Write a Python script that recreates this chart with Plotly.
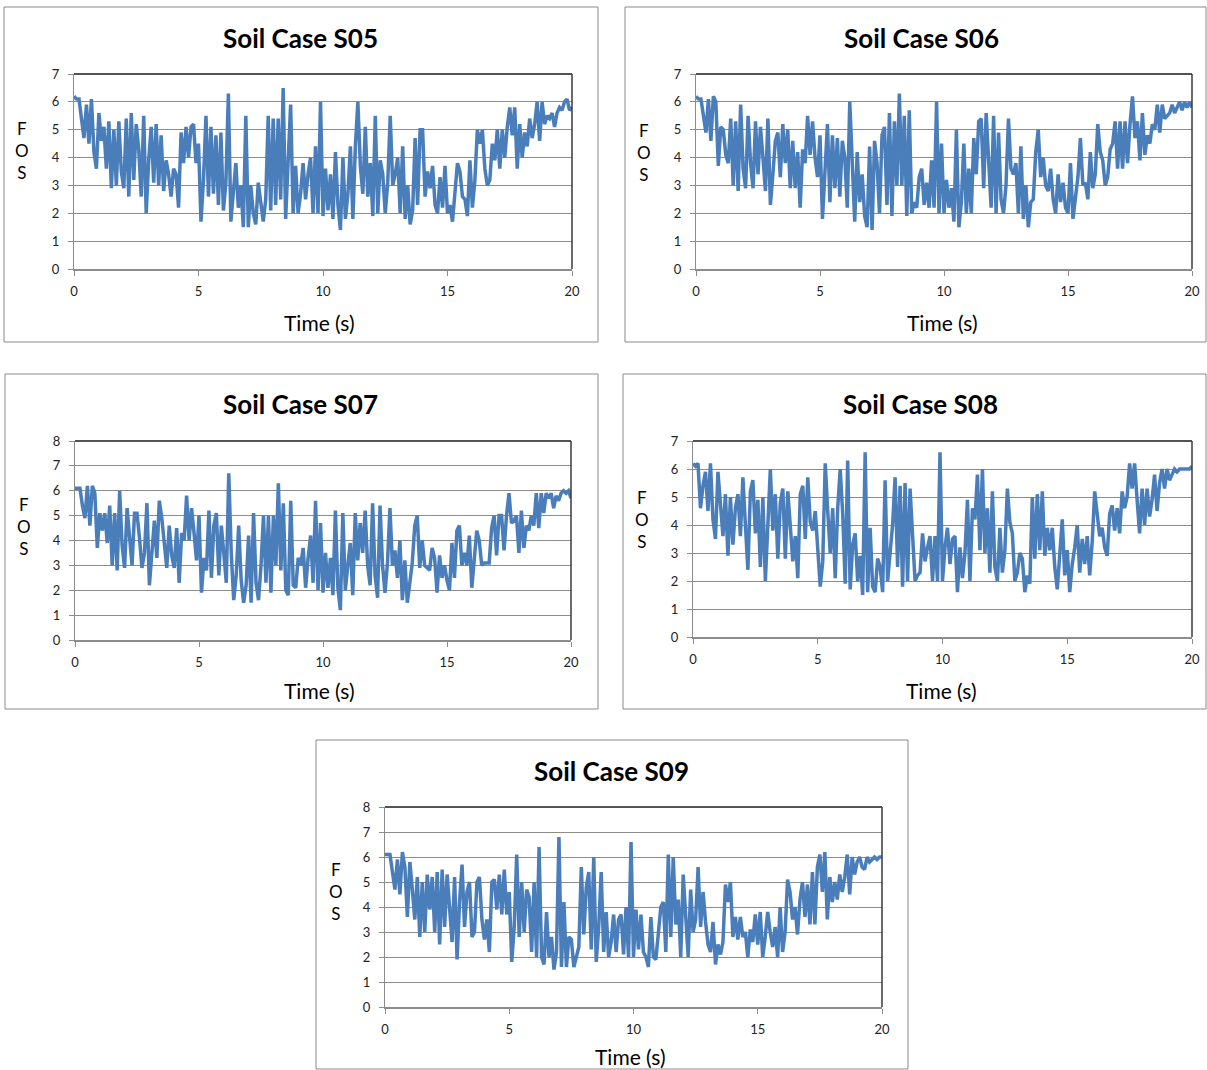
import plotly.graph_objects as go

W, H = 1207, 1070

time_s = [round(i * 0.1, 1) for i in range(201)]

s05 = [6.2, 6.1, 6.1, 5.4, 4.7, 5.9, 4.5, 6.1, 4.2, 3.6,
       5.6, 4.6, 5.1, 3.6, 5.3, 2.9, 5.0, 3.0, 5.3, 3.5,
       2.9, 5.4, 2.6, 5.6, 3.2, 5.2, 4.3, 2.6, 5.5, 2.0,
       3.9, 5.1, 3.1, 5.2, 3.0, 4.8, 2.8, 3.9, 3.4, 2.6,
       3.6, 3.4, 2.2, 4.9, 3.8, 5.1, 4.0, 5.1, 5.2, 3.8,
       4.5, 1.7, 3.2, 5.5, 2.6, 5.1, 2.7, 4.8, 2.3, 4.9,
       2.1, 3.1, 6.3, 1.7, 2.9, 3.8, 2.2, 3.0, 1.5, 5.5,
       1.5, 3.0, 2.0, 1.6, 3.1, 2.5, 1.7, 2.5, 5.5, 2.1,
       5.4, 2.3, 5.4, 2.5, 6.5, 1.8, 3.8, 5.9, 2.0, 3.7,
       2.0, 2.7, 3.8, 2.5, 3.4, 4.0, 2.0, 4.4, 2.0, 6.0,
       1.9, 3.6, 2.1, 3.4, 1.8, 4.2, 2.3, 1.4, 4.0, 1.8,
       2.7, 4.4, 1.8, 4.4, 6.0, 3.7, 2.7, 5.1, 2.6, 3.8,
       1.9, 5.5, 2.0, 3.9, 3.4, 2.0, 3.1, 5.5, 3.0, 3.4,
       4.0, 2.0, 4.4, 1.8, 3.0, 1.6, 2.1, 4.7, 2.3, 5.0,
       5.0, 2.6, 3.5, 2.9, 3.7, 2.3, 2.0, 3.3, 2.2, 3.7,
       2.0, 2.3, 1.7, 2.7, 3.8, 3.5, 2.6, 2.5, 1.9, 3.9,
       2.2, 3.2, 5.0, 4.5, 5.0, 3.6, 3.0, 3.2, 4.5, 3.9,
       5.0, 3.6, 5.0, 4.0, 5.1, 5.8, 4.8, 5.8, 3.6, 5.2,
       4.0, 4.9, 4.4, 5.4, 4.7, 5.2, 6.0, 4.6, 6.0, 5.2,
       5.5, 5.4, 5.6, 5.1, 5.6, 5.8, 5.7, 6.0, 6.1, 5.7,
       5.8]

s06 = [6.2, 6.1, 6.1, 5.4, 4.9, 6.1, 4.6, 6.2, 6.0, 3.7,
       5.1, 5.0, 4.1, 3.8, 5.4, 3.0, 5.3, 2.8, 5.9, 3.6,
       2.9, 5.5, 3.8, 2.9, 5.3, 3.4, 5.1, 4.0, 2.8, 5.4,
       2.3, 3.4, 4.6, 4.9, 3.3, 5.2, 3.8, 5.0, 2.9, 4.6,
       2.9, 4.2, 2.2, 4.3, 3.8, 5.5, 4.1, 5.3, 4.0, 3.3,
       4.8, 1.8, 3.3, 5.2, 2.4, 4.8, 2.9, 4.7, 2.6, 4.6,
       4.0, 2.2, 6.0, 3.5, 1.7, 4.2, 2.4, 3.4, 1.9, 1.5,
       4.4, 1.4, 4.6, 3.8, 2.0, 4.8, 5.1, 2.3, 5.6, 1.9,
       5.3, 3.0, 6.3, 3.0, 5.5, 1.9, 5.7, 2.0, 2.4, 2.2,
       3.3, 3.6, 2.3, 3.1, 2.2, 3.9, 2.2, 6.0, 2.0, 4.5,
       2.0, 3.2, 2.2, 2.9, 1.7, 5.0, 1.5, 2.4, 4.5, 2.0,
       3.6, 2.0, 4.7, 3.4, 5.3, 5.4, 2.9, 5.6, 3.6, 2.2,
       5.5, 2.0, 4.9, 2.5, 2.0, 3.0, 5.4, 3.6, 3.4, 3.8,
       2.0, 4.4, 1.8, 3.0, 1.5, 2.4, 2.5, 4.2, 5.0, 3.3,
       4.0, 3.0, 2.8, 3.6, 2.5, 2.0, 3.4, 2.4, 3.1, 2.2,
       2.0, 3.8, 1.8, 2.5, 3.3, 4.7, 3.0, 3.1, 2.5, 4.2,
       2.9, 3.4, 5.2, 4.2, 3.9, 3.0, 3.3, 4.3, 4.5, 5.3,
       3.6, 5.3, 3.6, 5.3, 3.8, 5.2, 6.2, 4.7, 5.3, 3.9,
       5.6, 4.1, 4.8, 4.5, 5.2, 5.0, 5.9, 4.9, 5.9, 5.4,
       5.5, 5.6, 5.9, 5.6, 5.8, 6.0, 5.7, 6.0, 5.8, 6.0,
       5.8]

s07 = [6.1, 6.1, 6.1, 5.4, 4.9, 6.2, 4.6, 6.2, 5.9, 3.7,
       5.1, 4.4, 5.1, 3.9, 5.4, 3.0, 5.1, 2.8, 6.0, 3.8,
       2.9, 5.3, 4.0, 3.0, 5.1, 5.1, 4.1, 2.9, 3.5, 5.5,
       2.2, 3.6, 4.8, 3.3, 5.6, 4.9, 4.0, 2.9, 4.6, 3.4,
       2.9, 4.5, 2.3, 4.3, 4.0, 5.8, 4.0, 5.3, 4.3, 3.2,
       5.0, 1.9, 3.3, 2.8, 5.2, 2.5, 4.6, 5.1, 2.6, 4.6,
       3.5, 2.3, 6.7, 3.5, 1.6, 2.6, 4.6, 2.4, 1.5, 2.2,
       4.2, 1.5, 5.1, 2.3, 1.6, 3.0, 5.0, 2.3, 5.0, 1.9,
       5.0, 3.0, 6.3, 2.8, 5.5, 2.0, 1.8, 5.6, 2.2, 2.1,
       3.3, 3.0, 3.7, 2.1, 3.3, 4.2, 2.3, 5.6, 2.0, 4.7,
       1.9, 3.5, 2.1, 3.3, 1.8, 5.2, 2.1, 1.2, 5.1, 2.0,
       3.0, 3.9, 1.8, 5.1, 3.2, 4.7, 3.5, 5.2, 3.0, 2.2,
       5.5, 2.6, 1.7, 5.4, 3.0, 1.9, 3.1, 5.3, 3.0, 3.6,
       2.5, 4.0, 1.6, 3.2, 1.5, 2.2, 3.1, 4.6, 5.0, 2.9,
       4.0, 3.0, 2.9, 2.8, 3.7, 3.3, 1.9, 3.4, 2.5, 3.0,
       2.4, 2.0, 3.9, 2.5, 4.4, 4.6, 3.0, 3.5, 3.0, 4.2,
       2.1, 3.2, 4.4, 4.0, 3.0, 3.1, 3.1, 3.1, 4.5, 5.0,
       3.4, 5.0, 5.0, 3.6, 5.0, 5.9, 4.7, 4.8, 5.0, 3.5,
       5.2, 3.7, 4.6, 4.4, 5.0, 4.6, 5.9, 4.5, 5.9, 5.1,
       5.9, 5.7, 5.9, 5.3, 5.8, 5.6, 5.9, 6.0, 5.9, 6.0,
       5.7]

s08 = [6.2, 6.1, 6.2, 4.6, 5.4, 5.9, 4.5, 6.2, 4.2, 3.5,
       5.9, 4.7, 3.6, 5.1, 2.9, 5.0, 3.3, 4.6, 5.1, 3.6,
       5.7, 4.0, 2.4, 5.2, 5.6, 3.7, 4.9, 2.5, 5.0, 2.0,
       4.3, 6.0, 3.8, 5.1, 2.8, 4.8, 5.3, 2.8, 5.2, 3.7,
       2.7, 3.6, 2.1, 5.1, 5.4, 3.5, 5.7, 4.1, 3.8, 4.5,
       3.1, 1.8, 2.7, 6.2, 4.5, 3.0, 4.6, 2.1, 4.6, 6.0,
       4.4, 1.9, 6.3, 1.7, 3.3, 3.7, 2.0, 2.9, 1.5, 6.6,
       1.6, 3.9, 1.8, 1.6, 2.8, 2.5, 1.6, 5.6, 2.0, 3.0,
       4.0, 5.7, 2.5, 5.4, 1.8, 5.5, 2.0, 5.3, 3.5, 2.0,
       2.2, 2.3, 3.7, 2.7, 3.2, 3.6, 2.0, 3.6, 2.0, 6.6,
       2.0, 3.2, 3.9, 2.6, 3.5, 3.6, 1.6, 3.2, 2.1, 3.0,
       4.9, 2.0, 4.6, 4.2, 5.8, 3.1, 6.0, 3.0, 4.6, 2.3,
       5.2, 2.5, 2.0, 3.9, 2.3, 3.1, 5.3, 4.1, 3.7, 2.0,
       2.3, 3.0, 2.8, 1.6, 2.2, 1.9, 5.0, 2.8, 5.1, 3.1,
       5.2, 2.9, 3.9, 3.1, 3.9, 2.5, 1.7, 3.2, 4.2, 2.2,
       3.1, 1.6, 2.6, 3.2, 4.0, 2.3, 3.5, 2.6, 3.6, 2.2,
       3.4, 5.2, 4.4, 3.6, 3.9, 3.2, 2.9, 4.4, 4.7, 3.8,
       4.6, 3.7, 5.2, 4.6, 5.0, 6.2, 5.3, 6.2, 4.9, 3.7,
       5.3, 4.0, 5.3, 4.3, 4.9, 5.8, 4.5, 5.5, 6.0, 5.3,
       6.0, 5.6, 5.8, 6.0, 5.9, 6.0, 6.0, 6.0, 6.0, 6.0,
       6.1]

s09 = [6.1, 6.1, 6.1, 5.4, 4.7, 5.9, 4.5, 6.2, 5.6, 3.6,
       5.8, 4.7, 3.5, 5.2, 2.8, 5.0, 3.0, 5.3, 3.9, 5.2,
       3.0, 5.4, 2.5, 5.5, 3.2, 5.3, 4.0, 2.6, 5.2, 1.9,
       4.2, 5.7, 3.2, 4.6, 5.0, 2.8, 3.0, 5.0, 5.2, 3.5,
       2.7, 3.5, 2.2, 5.0, 5.1, 3.9, 5.3, 3.7, 5.5, 3.7,
       4.6, 1.8, 3.2, 6.1, 2.8, 5.0, 3.0, 4.7, 4.4, 2.2,
       5.0, 2.0, 6.4, 2.0, 1.7, 3.8, 2.0, 2.8, 1.5, 2.2,
       6.8, 1.6, 4.2, 1.6, 2.8, 2.7, 1.6, 2.0, 2.4, 5.6,
       2.9, 4.8, 5.4, 2.3, 6.0, 1.8, 3.2, 5.4, 2.2, 3.8,
       2.0, 2.6, 3.7, 2.2, 3.5, 3.7, 2.1, 4.0, 2.0, 6.6,
       2.0, 3.9, 2.3, 3.7, 2.2, 2.0, 1.6, 3.6, 2.0, 1.9,
       3.0, 4.0, 4.2, 2.2, 6.1, 2.8, 6.0, 3.3, 4.3, 2.0,
       5.3, 3.5, 2.0, 4.7, 3.0, 3.5, 5.6, 3.2, 4.6, 3.4,
       2.5, 2.2, 3.4, 1.7, 2.5, 2.1, 2.6, 4.9, 4.2, 5.0,
       2.8, 3.6, 2.7, 3.6, 2.8, 3.0, 2.0, 3.1, 2.6, 3.7,
       2.5, 3.8, 2.0, 2.8, 3.8, 3.0, 2.4, 3.2, 2.0, 4.0,
       2.2, 3.0, 5.1, 4.6, 3.5, 4.0, 2.9, 4.3, 5.0, 3.6,
       4.9, 3.3, 5.4, 3.3, 5.6, 6.1, 4.6, 6.2, 3.5, 5.2,
       4.2, 5.0, 4.3, 5.3, 4.6, 5.2, 6.1, 4.5, 6.0, 5.3,
       5.8, 6.0, 5.6, 5.5, 6.0, 5.8, 5.9, 6.0, 5.9, 6.0,
       6.0]

titles = ["Soil Case S05", "Soil Case S06", "Soil Case S07", "Soil Case S08", "Soil Case S09"]
series = [s05, s06, s07, s08, s09]
y_max = [7, 7, 8, 7, 8]
x_ticks = [0, 5, 10, 15, 20]
x_label = "Time (s)"
y_label = "F<br>O<br>S"

# layout geometry (pixels): panel box, plot area, title pos, x-label pos, y-label pos
panels = [
    dict(box=(4, 7, 598, 342), plot=(74, 74, 572, 269), title=(300, 38), xl=(319, 322), yl=(22, 150)),
    dict(box=(625, 7, 1206, 342), plot=(696, 74, 1192, 269), title=(921, 38), xl=(942, 322), yl=(644, 152)),
    dict(box=(5, 374, 598, 709), plot=(75, 441, 571, 640), title=(300, 404), xl=(319, 690), yl=(24, 526)),
    dict(box=(623, 374, 1206, 709), plot=(693, 441, 1192, 637), title=(920, 404), xl=(941, 690), yl=(642, 519)),
    dict(box=(316, 740, 908, 1069), plot=(385, 807, 882, 1007), title=(611, 771), xl=(630, 1056), yl=(336, 891)),
]

def px(x):
    return x / W

def py(y):
    return 1 - y / H

FONT = "Lato, 'Open Sans', sans-serif"
LINE_COLOR = "#4a7ebb"
GRID = "#8c8c8c"

fig = go.Figure()
shapes = []
annotations = []
layout_axes = {}

for i, (p, ttl, ys, ym) in enumerate(zip(panels, titles, series, y_max)):
    n = i + 1
    xa = "x" if n == 1 else f"x{n}"
    ya = "y" if n == 1 else f"y{n}"
    xkey = "xaxis" if n == 1 else f"xaxis{n}"
    ykey = "yaxis" if n == 1 else f"yaxis{n}"
    x0, y0, x1, y1 = p["plot"]
    fig.add_trace(go.Scatter(x=time_s, y=ys, mode="lines", xaxis=xa, yaxis=ya,
                             line=dict(color=LINE_COLOR, width=3.5), showlegend=False,
                             hoverinfo="skip"))
    layout_axes[xkey] = dict(domain=[px(x0), px(x1)], anchor=ya, range=[0, 20],
                             tickvals=x_ticks, ticks="outside", ticklen=5, tickcolor=GRID,
                             showgrid=False, zeroline=False, showline=True, linecolor=GRID,
                             linewidth=2, tickfont=dict(family=FONT, size=13, color="#222"),
                             ticklabelstandoff=4, fixedrange=True, automargin=False)
    layout_axes[ykey] = dict(domain=[py(y1), py(y0)], anchor=xa, range=[0, ym],
                             dtick=1, ticks="outside", ticklen=5, tickcolor=GRID,
                             showgrid=True, gridcolor=GRID, gridwidth=1, zeroline=False,
                             showline=True, linecolor=GRID, linewidth=1,
                             tickfont=dict(family=FONT, size=13, color="#222"),
                             ticklabelstandoff=6, fixedrange=True, automargin=False)
    bx0, by0, bx1, by1 = p["box"]
    shapes.append(dict(type="rect", xref="paper", yref="paper", x0=px(bx0), x1=px(bx1),
                       y0=py(by1), y1=py(by0), line=dict(color="#8a8a8a", width=1), layer="below"))
    # plot-area top and right border
    shapes.append(dict(type="line", xref="paper", yref="paper", x0=px(x0), x1=px(x1),
                       y0=py(y0), y1=py(y0), line=dict(color="#1a1a1a", width=1.3)))
    shapes.append(dict(type="line", xref="paper", yref="paper", x0=px(x1), x1=px(x1),
                       y0=py(y0), y1=py(y1), line=dict(color="#3a3a3a", width=1.5)))
    tx, ty = p["title"]
    annotations.append(dict(text=f"<b>{ttl}</b>", x=px(tx), y=py(ty), xref="paper", yref="paper",
                            showarrow=False, xanchor="center", yanchor="middle",
                            font=dict(family=FONT, size=26, color="#000")))
    lx, ly = p["xl"]
    annotations.append(dict(text=x_label, x=px(lx), y=py(ly), xref="paper", yref="paper",
                            showarrow=False, xanchor="center", yanchor="middle",
                            font=dict(family=FONT, size=21, color="#000")))
    fx, fy = p["yl"]
    annotations.append(dict(text=y_label, x=px(fx), y=py(fy), xref="paper",
                            yref="paper", showarrow=False, xanchor="center", yanchor="middle",
                            font=dict(family=FONT, size=17, color="#000")))

fig.update_layout(template="none", width=W, height=H, margin=dict(l=0, r=0, t=0, b=0, pad=0),
                  paper_bgcolor="white", plot_bgcolor="white",
                  shapes=shapes, annotations=annotations, **layout_axes)

fig.write_html("out.html", config={"displayModeBar": False},
               post_script="document.body.style.margin='0';document.body.style.overflow='hidden';")
